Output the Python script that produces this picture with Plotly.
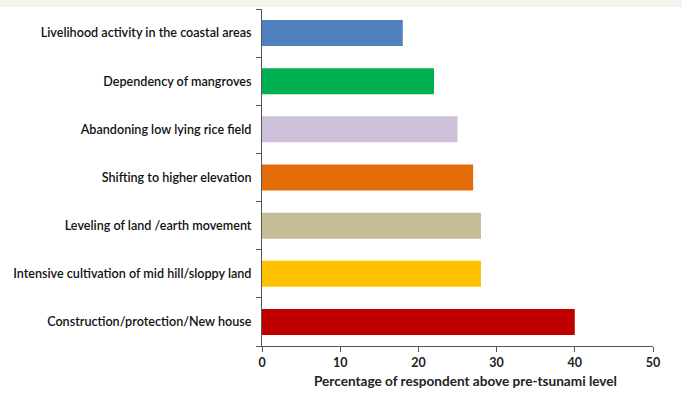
import plotly.graph_objects as go

categories = [
    "Construction/protection/New house",
    "Intensive cultivation of mid hill/sloppy land",
    "Leveling of land /earth movement",
    "Shifting to higher elevation",
    "Abandoning low lying rice field",
    "Dependency of mangroves",
    "Livelihood activity in the coastal areas",
]
values = [40, 28, 28, 27, 25, 22, 18]
colors = ["#c00000", "#ffc000", "#c4bd97", "#e36c09", "#ccc0da", "#00b050", "#4f81bd"]
x_ticks = [0, 10, 20, 30, 40, 50]
x_title = "Percentage of respondent above pre-tsunami level"

fig = go.Figure(go.Bar(
    y=categories, x=values, orientation="h",
    marker=dict(color=colors, line=dict(width=0)),
))

W, H = 682, 410
ml, mr, mt, mb = 262, 29, 9, 64
pw = W - ml - mr
ph = H - mt - mb

fig.update_layout(
    width=W, height=H,
    margin=dict(l=ml, r=mr, t=mt, b=mb),
    paper_bgcolor="white", plot_bgcolor="white",
    bargap=0.46,
    showlegend=False,
    font=dict(family="Lato", size=12, color="#1a1a1a"),
    xaxis=dict(
        range=[0, 50], tickvals=x_ticks, showgrid=False, zeroline=False,
        showline=True, linecolor="#555", linewidth=1,
        ticks="outside", ticklen=5, tickcolor="#555",
        tickfont=dict(size=12.5, family="Lato", weight="bold", color="#222"),
        automargin=False,
    ),
    yaxis=dict(
        categoryorder="array", categoryarray=categories,
        showgrid=False, showline=True, linecolor="#555", linewidth=1,
        ticks="outside", ticklen=5, tickcolor="#555", tickson="boundaries",
        tickfont=dict(size=12.6, family="Lato", weight=600, color="#111"),
        ticklabelstandoff=7, automargin=False,
    ),
    annotations=[dict(text=x_title, xref="paper", yref="paper",
                      x=(465 - ml) / pw, y=-(381 - mt - ph) / ph,
                      xanchor="center", yanchor="middle", showarrow=False,
                      font=dict(size=13.6, family="Lato", weight="bold", color="#222"))],
    shapes=[dict(type="rect", xref="paper", yref="paper",
                 x0=-ml / pw, x1=1 + mr / pw,
                 y0=1 + 2 / ph, y1=1 + (mt + 2) / ph,
                 fillcolor="#f6f3ec", line=dict(width=0), layer="below")],
)

fig.write_html("out.html")
